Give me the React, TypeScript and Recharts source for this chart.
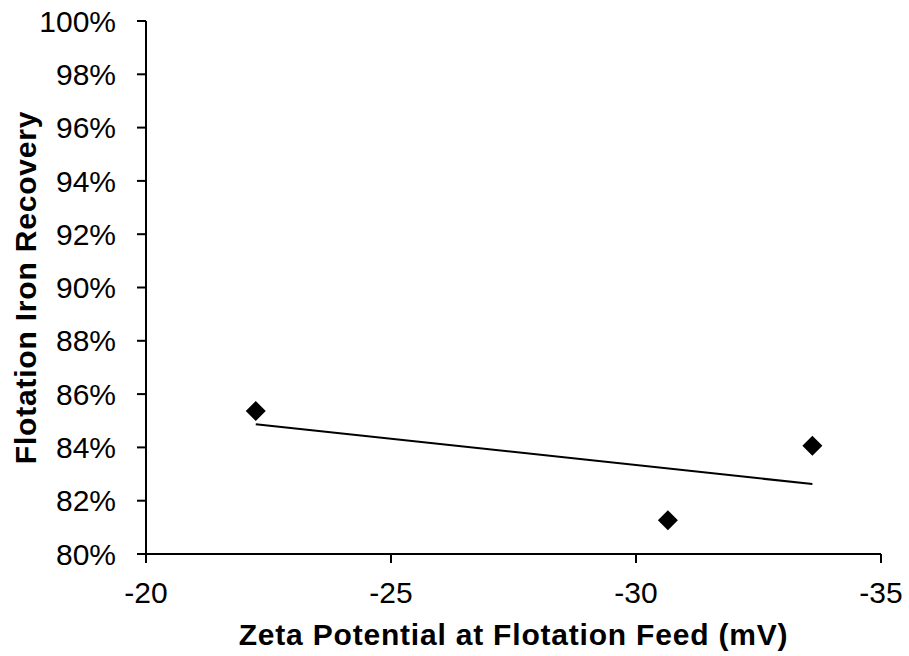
import { ScatterChart, Scatter, XAxis, YAxis, Label } from 'recharts'

const zeta = [-22.24, -30.65, -33.6]
const recovery = [85.37, 81.27, 84.06]
const xTicks = [-20, -25, -30, -35]
const yTicks = [80, 82, 84, 86, 88, 90, 92, 94, 96, 98, 100]

const points = zeta.map((z, i) => ({ x: z, y: recovery[i] }))

// linear trendline (least squares), drawn between the outer data points
const n = zeta.length
const mx = zeta.reduce((a, b) => a + b, 0) / n
const my = recovery.reduce((a, b) => a + b, 0) / n
let sxy = 0
let sxx = 0
zeta.forEach((z, i) => {
  sxy += (z - mx) * (recovery[i] - my)
  sxx += (z - mx) * (z - mx)
})
const slope = sxy / sxx
const xMin = Math.min(...zeta)
const xMax = Math.max(...zeta)
const trend = [xMax, xMin].map(x => ({ x, y: my + slope * (x - mx) }))

const font = '"Liberation Sans", Arial, sans-serif'
const titleStyle = { fontSize: 30, fontWeight: 700, fontFamily: font, fill: '#000', letterSpacing: 0.8 }

const Diamond = (props: any) => {
  const { cx, cy } = props
  const r = 10
  return <polygon points={`${cx},${cy - r} ${cx + r},${cy} ${cx},${cy + r} ${cx - r},${cy}`} fill="#000" />
}

export default function App() {
  const tick = { fontSize: 30, fill: '#000', fontFamily: font }
  return (
    <div style={{ position: 'absolute', left: 0, top: 0, background: '#fff' }}>
      <ScatterChart width={909} height={656} margin={{ top: 21, right: 28, bottom: 0, left: 0 }}>
        <XAxis type="number" dataKey="x" domain={[-35, -20]} reversed ticks={xTicks}
          height={102} tick={tick} tickSize={9} tickMargin={19}
          axisLine={{ stroke: '#000', strokeWidth: 2 }} tickLine={{ stroke: '#000', strokeWidth: 2 }}>
          <Label content={(p: any) => {
            const vb = p.viewBox
            return (
              <text x={vb.x + vb.width / 2} y={645} textAnchor="middle" style={titleStyle}>
                Zeta Potential at Flotation Feed (mV)
              </text>
            )
          }} />
        </XAxis>
        <YAxis type="number" dataKey="y" domain={[80, 100]} ticks={yTicks} width={146}
          tick={tick} tickSize={9} tickMargin={21} tickFormatter={v => `${v}%`}
          axisLine={{ stroke: '#000', strokeWidth: 2 }} tickLine={{ stroke: '#000', strokeWidth: 2 }}>
          <Label content={(p: any) => {
            const vb = p.viewBox
            const cy = vb.y + vb.height / 2
            return (
              <text x={36} y={cy} textAnchor="middle" transform={`rotate(-90 36 ${cy})`} style={titleStyle}>
                Flotation Iron Recovery
              </text>
            )
          }} />
        </YAxis>
        <Scatter data={trend} line={{ stroke: '#000', strokeWidth: 2 }} shape={() => null}
          isAnimationActive={false} />
        <Scatter data={points} shape={Diamond} isAnimationActive={false} />
      </ScatterChart>
    </div>
  )
}
